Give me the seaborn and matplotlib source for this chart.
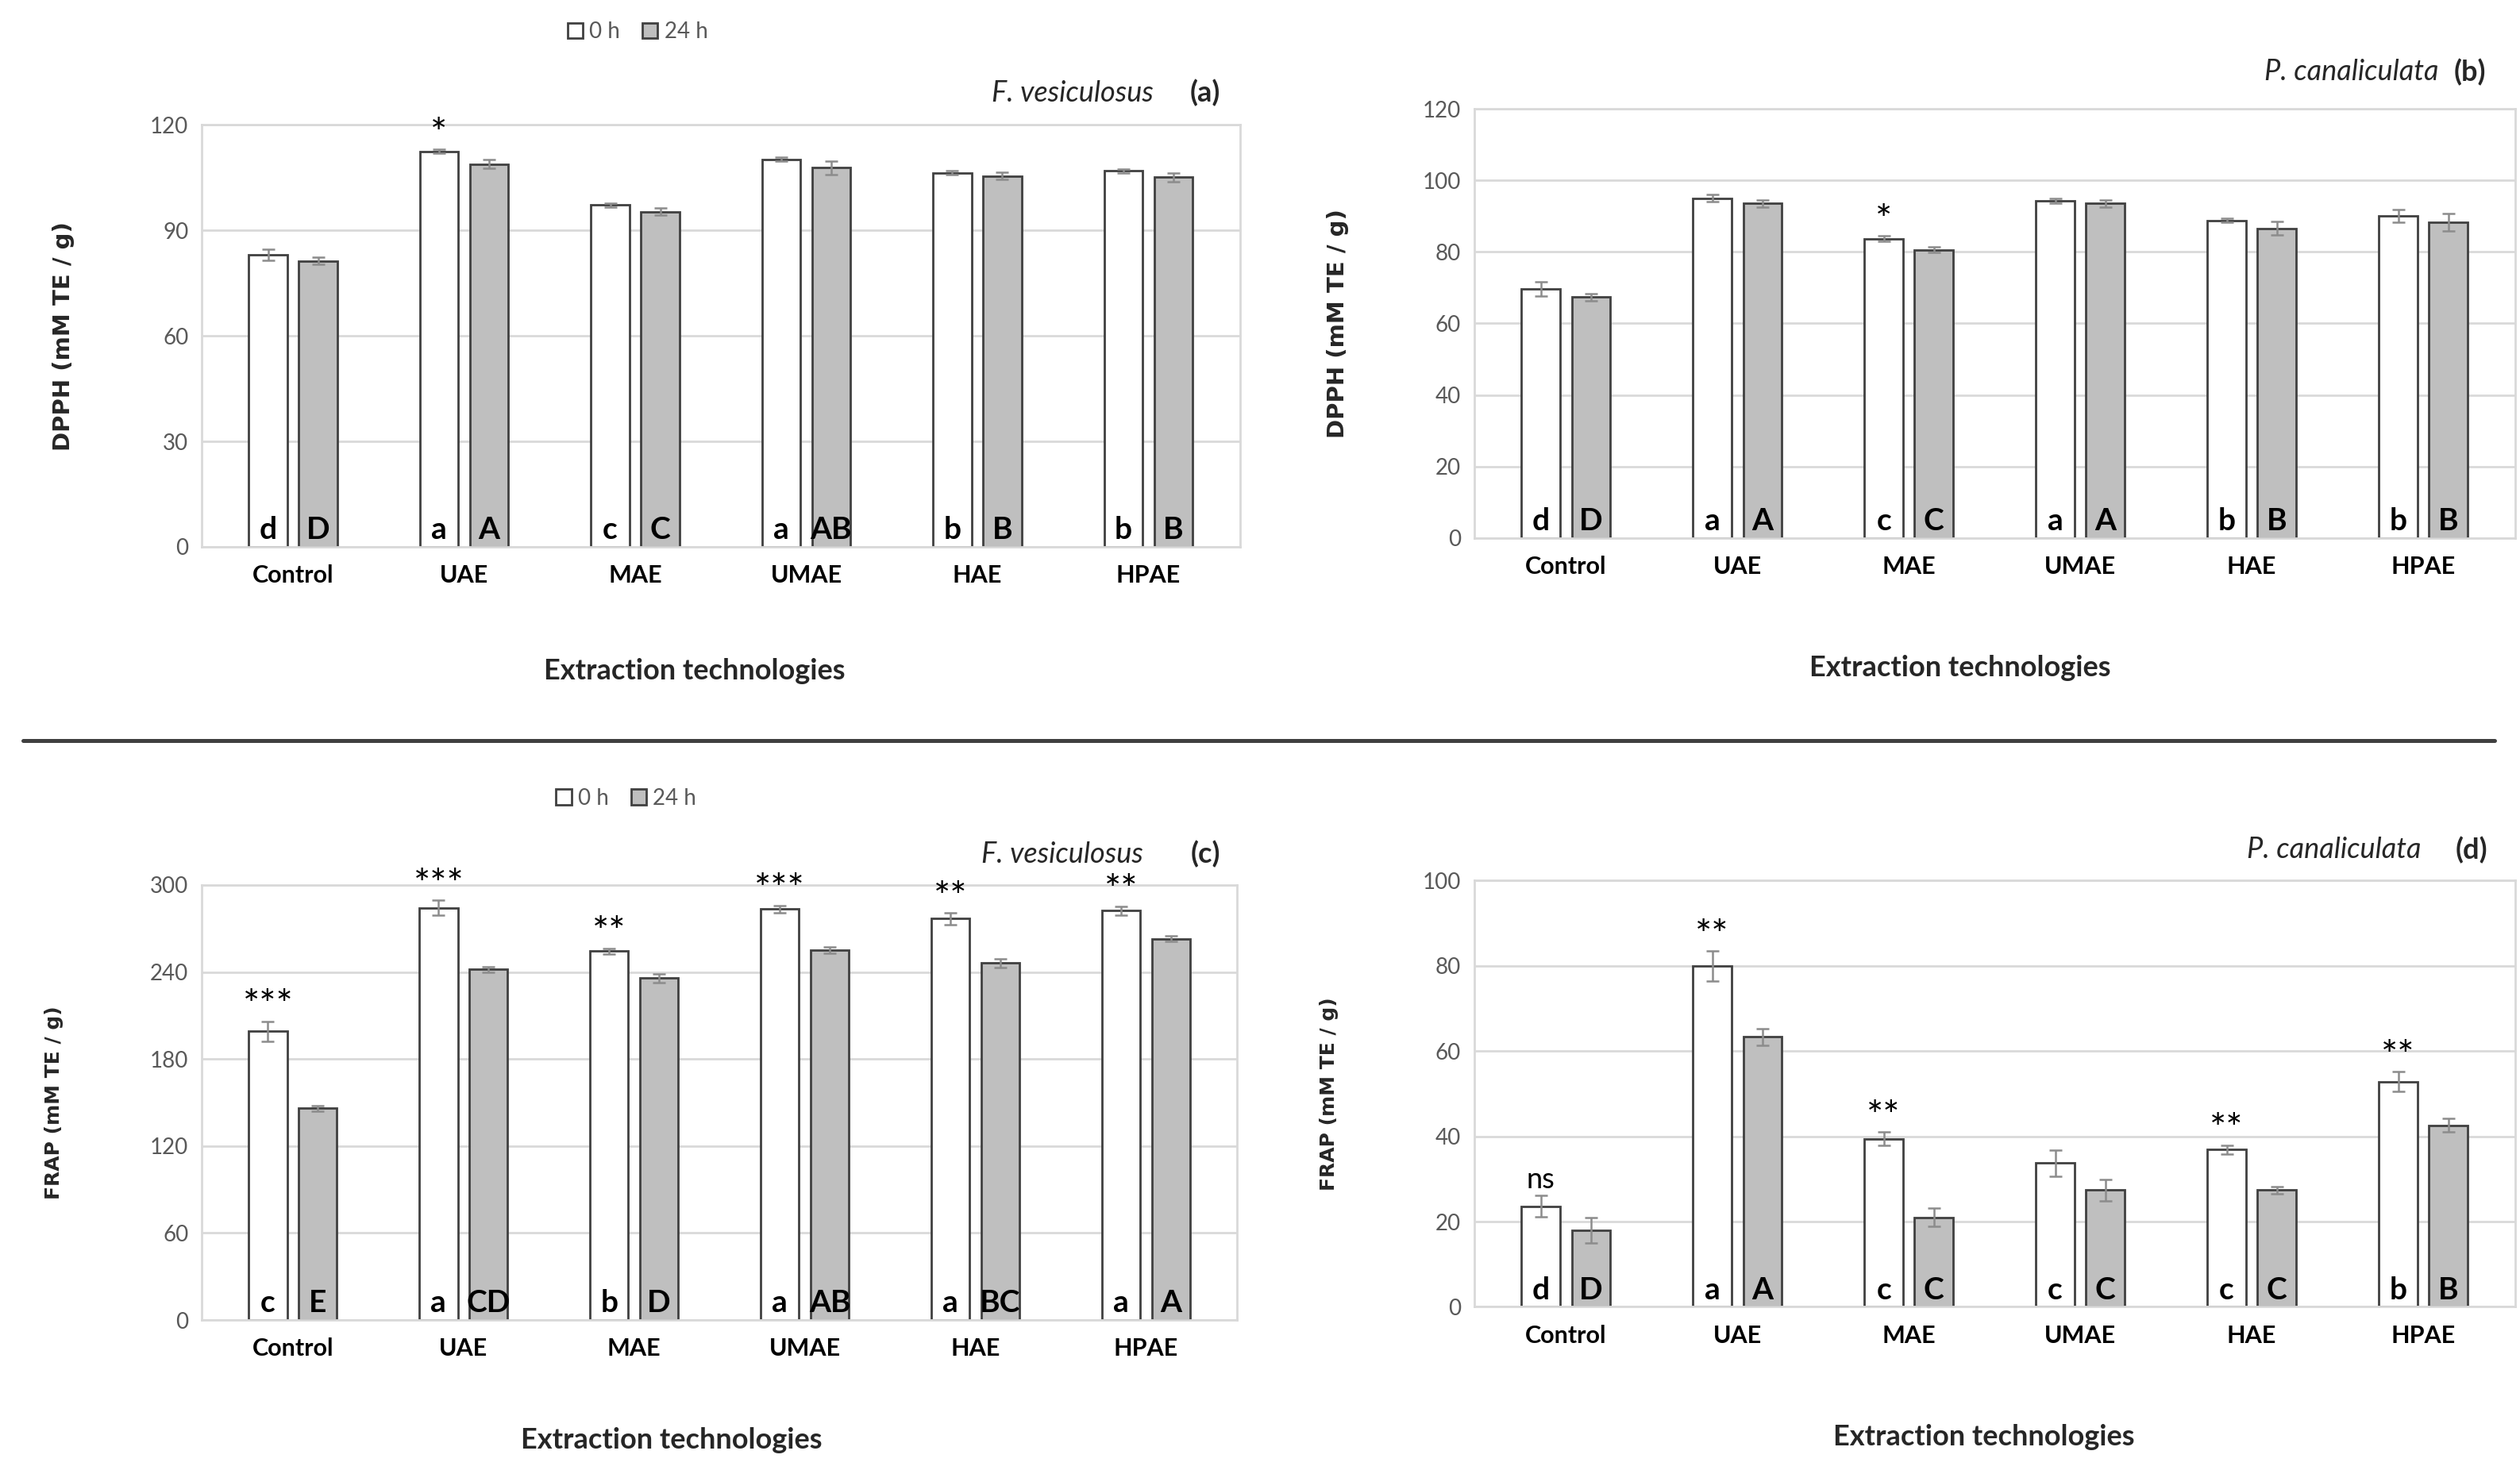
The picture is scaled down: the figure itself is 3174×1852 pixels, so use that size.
import numpy as np
import pandas as pd
import matplotlib.pyplot as plt
import seaborn as sns
from matplotlib.lines import Line2D

sns.set_style("white")
plt.rcParams['font.family'] = ['Lato', 'DejaVu Sans']

methods = ["Control", "UAE", "MAE", "UMAE", "HAE", "HPAE"]
times = ["0 h", "24 h"]

# (a) DPPH - F. vesiculosus
dpph_fv_0 = [83.1, 112.5, 97.2, 110.2, 106.4, 106.9]
dpph_fv_0_sd = [1.5, 0.5, 0.5, 0.6, 0.5, 0.5]
dpph_fv_24 = [81.3, 108.9, 95.3, 107.8, 105.5, 105.1]
dpph_fv_24_sd = [1.0, 1.2, 1.0, 2.0, 1.0, 1.2]
dpph_fv_sig = ["", "*", "", "", "", ""]
dpph_fv_let0 = ["d", "a", "c", "a", "b", "b"]
dpph_fv_let24 = ["D", "A", "C", "AB", "B", "B"]

# (b) DPPH - P. canaliculata
dpph_pc_0 = [69.7, 95.0, 83.7, 94.3, 88.8, 90.0]
dpph_pc_0_sd = [2.0, 1.0, 0.7, 0.7, 0.6, 1.8]
dpph_pc_24 = [67.4, 93.5, 80.6, 93.5, 86.6, 88.3]
dpph_pc_24_sd = [1.0, 1.0, 0.7, 1.0, 1.8, 2.5]
dpph_pc_sig = ["", "", "*", "", "", ""]
dpph_pc_let0 = ["d", "a", "c", "a", "b", "b"]
dpph_pc_let24 = ["D", "A", "C", "A", "B", "B"]

# (c) FRAP - F. vesiculosus
frap_fv_0 = [199.0, 284.3, 254.3, 283.3, 276.7, 282.3]
frap_fv_0_sd = [7.0, 5.0, 2.0, 2.5, 4.0, 3.0]
frap_fv_24 = [146.0, 241.7, 235.7, 255.0, 246.3, 263.0]
frap_fv_24_sd = [2.0, 2.0, 3.0, 2.0, 3.0, 2.0]
frap_fv_sig = ["***", "***", "**", "***", "**", "**"]
frap_fv_let0 = ["c", "a", "b", "a", "a", "a"]
frap_fv_let24 = ["E", "CD", "D", "AB", "BC", "A"]

# (d) FRAP - P. canaliculata
frap_pc_0 = [23.6, 80.0, 39.4, 33.7, 36.9, 52.8]
frap_pc_0_sd = [2.5, 3.5, 1.6, 3.0, 1.0, 2.3]
frap_pc_24 = [17.9, 63.3, 21.0, 27.4, 27.4, 42.6]
frap_pc_24_sd = [3.0, 2.0, 2.2, 2.5, 0.8, 1.6]
frap_pc_sig = ["ns", "**", "**", "", "**", "**"]
frap_pc_let0 = ["d", "a", "c", "c", "c", "b"]
frap_pc_let24 = ["D", "A", "C", "C", "C", "B"]

panels = [
    dict(pos=[0.080, 0.628, 0.412, 0.287], v0=dpph_fv_0, s0=dpph_fv_0_sd, v24=dpph_fv_24, s24=dpph_fv_24_sd,
         sig=dpph_fv_sig, l0=dpph_fv_let0, l24=dpph_fv_let24, ticks=[0, 30, 60, 90, 120],
         ylabel="DPPH (mM TE / g)", ylsize=10.5, ylx=-0.122, xlx=0.475, xly=-0.263,
         species="F. vesiculosus", tag="(a)", spx=0.917, tagx=0.981, ty=1.076, legend=(0.42, 1.221)),
    dict(pos=[0.585, 0.634, 0.413, 0.292], v0=dpph_pc_0, s0=dpph_pc_0_sd, v24=dpph_pc_24, s24=dpph_pc_24_sd,
         sig=dpph_pc_sig, l0=dpph_pc_let0, l24=dpph_pc_let24, ticks=[0, 20, 40, 60, 80, 100, 120],
         ylabel="DPPH (mM TE / g)", ylsize=10.5, ylx=-0.12, xlx=0.467, xly=-0.273,
         species="P. canaliculata", tag="(b)", spx=0.927, tagx=0.972, ty=1.086, legend=None),
    dict(pos=[0.080, 0.102, 0.411, 0.296], v0=frap_fv_0, s0=frap_fv_0_sd, v24=frap_fv_24, s24=frap_fv_24_sd,
         sig=frap_fv_sig, l0=frap_fv_let0, l24=frap_fv_let24, ticks=[0, 60, 120, 180, 240, 300],
         ylabel="FRAP (mM TE / g)", ylsize=9, ylx=-0.133, xlx=0.454, xly=-0.247,
         species="F. vesiculosus", tag="(c)", spx=0.909, tagx=0.984, ty=1.07, legend=(0.41, 1.199)),
    dict(pos=[0.585, 0.111, 0.413, 0.290], v0=frap_pc_0, s0=frap_pc_0_sd, v24=frap_pc_24, s24=frap_pc_24_sd,
         sig=frap_pc_sig, l0=frap_pc_let0, l24=frap_pc_let24, ticks=[0, 20, 40, 60, 80, 100],
         ylabel="FRAP (mM TE / g)", ylsize=9, ylx=-0.13, xlx=0.49, xly=-0.275,
         species="P. canaliculata", tag="(d)", spx=0.91, tagx=0.974, ty=1.072, legend=None),
]

fig = plt.figure(figsize=(15.87, 9.26), dpi=200)

for p in panels:
    df = pd.DataFrame({
        'method': methods * 2,
        'time': [times[0]] * 6 + [times[1]] * 6,
        'value': p['v0'] + p['v24'],
    })
    ax = fig.add_axes(p['pos'])
    sns.barplot(data=df, x='method', y='value', hue='time', order=methods, hue_order=times,
                palette={'0 h': 'white', '24 h': '#bfbfbf'}, edgecolor='#404040', linewidth=1.0,
                width=0.585, gap=0.23, errorbar=None, legend=p['legend'] is not None, ax=ax, zorder=2)

    for cont, sd, letters, sig in zip(ax.containers, [p['s0'], p['s24']], [p['l0'], p['l24']],
                                      [p['sig'], [""] * 6]):
        xs = [b.get_x() + b.get_width() / 2 for b in cont]
        hs = [b.get_height() for b in cont]
        ax.errorbar(xs, hs, yerr=sd, fmt='none', ecolor='#8c8c8c', elinewidth=0.9,
                    capsize=3, capthick=0.9, zorder=3)
        for x, h, e, l, s in zip(xs, hs, sd, letters, sig):
            ax.annotate(l, (x, 0), xytext=(0, 3.5), textcoords='offset points',
                        ha='center', va='baseline', fontsize=14, fontweight='bold', color='black')
            if s == "ns":
                ax.annotate(s, (x, h + e), xytext=(0, 1), textcoords='offset points',
                            ha='center', va='bottom', fontsize=13, color='black')
            elif s:
                ax.annotate(s, (x, h + e), xytext=(0, -2), textcoords='offset points',
                            ha='center', va='bottom', fontsize=18, color='black')

    ax.set_ylim(0, p['ticks'][-1])
    ax.set_yticks(p['ticks'])
    ax.yaxis.grid(True, color='#d9d9d9', linewidth=1)
    ax.set_axisbelow(True)
    for sp in ax.spines.values():
        sp.set_color('#d9d9d9')
        sp.set_linewidth(1)
    ax.tick_params(axis='y', colors='#595959', labelsize=10, length=0, pad=6)
    ax.tick_params(axis='x', colors='black', labelsize=11, length=0, pad=8)
    for lbl in ax.get_xticklabels():
        lbl.set_fontweight('bold')

    ax.set_ylabel(p['ylabel'], fontsize=p['ylsize'], fontweight='bold', family='DejaVu Sans')
    ax.yaxis.set_label_coords(p['ylx'], 0.5)
    ax.set_xlabel("Extraction technologies", fontsize=13, fontweight='bold')
    ax.xaxis.set_label_coords(p['xlx'], p['xly'])

    ax.text(p['spx'], p['ty'], p['species'], style='italic', ha='right', va='center',
            fontsize=13, transform=ax.transAxes)
    ax.text(p['tagx'], p['ty'], p['tag'], fontweight='bold', ha='right', va='center',
            fontsize=13, transform=ax.transAxes)

    if p['legend'] is not None:
        sns.move_legend(ax, 'center', bbox_to_anchor=p['legend'], ncol=2, frameon=False, title=None,
                        fontsize=10, labelcolor='#595959', handlelength=0.7, handleheight=0.7,
                        handletextpad=0.3, columnspacing=1.0)

fig.add_artist(Line2D([0.009, 0.99], [0.496, 0.496], transform=fig.transFigure,
                      color='#404040', linewidth=1.8))

fig.savefig('out.png', dpi=200)
plt.close()
